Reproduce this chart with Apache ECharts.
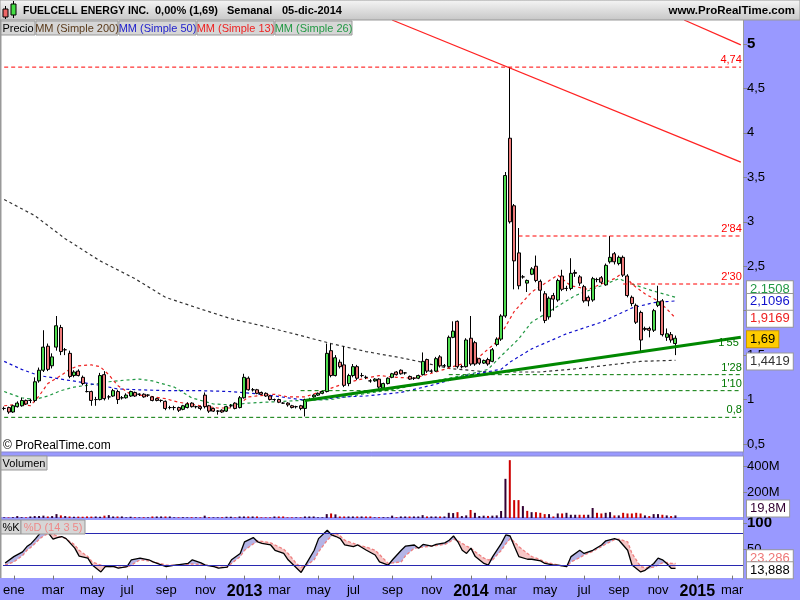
<!DOCTYPE html>
<html><head><meta charset="utf-8">
<script src="https://cdn.jsdelivr.net/npm/echarts@6/dist/echarts.min.js"></script>
<style>html,body{margin:0;padding:0;background:#fff}#c{width:800px;height:600px}</style>
</head><body><div id="c"></div>
<script>
// ---------- DATA ----------
const firstWeek = '2011-12-19';   // Monday of first weekly candle
const totalWeeks = 170;           // categories incl. empty future weeks
const monthNames = ['ene','feb','mar','abr','may','jun','jul','ago','sep','oct','nov','dic'];

// weekly candles [open, close, low, high]
const ohlc = [
[0.90,0.90,0.88,0.92],[0.91,0.86,0.84,0.92],[0.86,0.93,0.85,0.94],[0.92,0.96,0.91,0.98],[0.93,0.99,0.92,1.02],
[0.99,0.95,0.94,1.00],[0.99,0.99,0.96,1.01],[0.99,1.20,0.97,1.25],[1.21,1.33,1.19,1.36],[1.33,1.59,1.31,1.78],
[1.60,1.34,1.32,1.63],[1.38,1.48,1.35,1.52],[1.59,1.83,1.55,1.94],[1.81,1.54,1.50,1.84],[1.56,1.56,1.50,1.58],
[1.52,1.26,1.24,1.55],[1.27,1.31,1.25,1.33],[1.32,1.27,1.26,1.34],[1.25,1.18,1.16,1.27],[1.09,1.09,1.08,1.18],
[1.09,0.99,0.93,1.10],[1.00,1.00,0.93,1.03],[1.00,1.27,0.99,1.30],[1.28,1.01,0.99,1.32],[1.03,1.03,1.00,1.05],
[1.04,1.10,1.03,1.12],[1.09,1.00,0.95,1.11],[1.02,1.02,1.00,1.04],[1.02,1.05,1.01,1.07],[1.04,1.09,1.03,1.10],
[1.08,1.04,1.03,1.09],[1.06,1.06,1.04,1.07],[1.06,1.03,1.02,1.07],[1.05,1.05,1.03,1.06],[1.03,0.99,0.98,1.04],
[1.01,0.99,0.98,1.02],[0.99,0.99,0.97,1.00],[0.98,0.90,0.88,0.99],[0.91,0.91,0.89,0.93],[0.91,0.91,0.88,0.93],
[0.91,0.88,0.86,0.92],[0.89,0.93,0.88,0.94],[0.91,0.95,0.90,0.97],[0.96,0.92,0.91,0.97],[0.92,0.92,0.90,0.93],
[0.92,0.90,0.88,0.93],[1.05,0.92,0.90,1.08],[0.93,0.87,0.85,0.94],[0.90,0.87,0.86,0.91],[0.87,0.87,0.83,0.88],
[0.88,0.86,0.85,0.89],[0.87,0.92,0.86,0.93],[0.93,0.93,0.91,0.95],[0.96,0.90,0.89,0.97],[0.91,1.02,0.90,1.04],
[1.02,1.25,1.01,1.29],[1.24,1.11,1.10,1.26],[1.11,1.11,1.09,1.13],[1.11,1.07,1.06,1.12],[1.08,1.06,1.05,1.09],
[1.07,1.04,1.03,1.08],[1.04,1.00,0.99,1.05],[1.00,1.00,0.98,1.01],[1.00,0.97,0.96,1.01],[0.96,0.96,0.95,0.97],
[0.96,0.94,0.92,0.97],[0.93,0.91,0.90,0.94],[0.92,0.92,0.90,0.93],[0.93,0.90,0.88,0.94],[0.90,1.00,0.81,1.01],
[1.00,1.00,0.99,1.02],[1.03,1.05,1.02,1.06],[1.05,1.07,1.04,1.08],[1.07,1.09,1.06,1.10],[1.09,1.52,1.08,1.63],
[1.55,1.27,1.25,1.63],[1.27,1.47,1.26,1.50],[1.42,1.37,1.35,1.45],[1.39,1.16,1.14,1.60],[1.18,1.27,1.15,1.29],
[1.27,1.37,1.25,1.40],[1.37,1.24,1.22,1.39],[1.27,1.27,1.25,1.30],[1.25,1.25,1.23,1.27],[1.21,1.21,1.19,1.23],
[1.21,1.23,1.20,1.24],[1.23,1.14,1.12,1.24],[1.13,1.18,1.12,1.19],[1.18,1.24,1.17,1.25],[1.25,1.29,1.24,1.30],
[1.31,1.28,1.27,1.32],[1.33,1.29,1.28,1.34],[1.30,1.30,1.28,1.31],[1.26,1.23,1.22,1.27],[1.24,1.24,1.22,1.25],
[1.24,1.27,1.23,1.28],[1.28,1.43,1.27,1.53],[1.45,1.32,1.30,1.46],[1.32,1.32,1.30,1.34],[1.32,1.46,1.31,1.48],
[1.48,1.38,1.36,1.50],[1.38,1.38,1.36,1.40],[1.37,1.70,1.36,1.72],[1.70,1.77,1.69,1.88],[1.88,1.37,1.35,1.89],
[1.37,1.37,1.35,1.39],[1.37,1.67,1.36,1.69],[1.69,1.40,1.38,1.94],[1.64,1.40,1.38,1.66],[1.46,1.41,1.39,1.47],
[1.41,1.44,1.40,1.45],[1.45,1.40,1.38,1.47],[1.43,1.56,1.42,1.58],[1.62,1.68,1.60,1.70],[1.68,1.94,1.66,1.96],
[1.94,3.52,1.92,3.56],[3.94,3.00,2.98,4.74],[3.18,2.56,2.24,3.20],[2.65,2.28,2.24,2.93],[2.38,2.38,2.36,2.40],
[2.31,2.34,2.21,2.35],[2.41,2.47,2.40,2.49],[2.50,2.34,2.32,2.62],[2.33,2.23,1.99,2.35],[2.19,1.89,1.86,2.22],
[1.93,2.14,1.90,2.16],[2.17,2.13,2.00,2.20],[2.12,2.34,2.10,2.36],[2.39,2.24,2.22,2.46],[2.25,2.25,2.22,2.28],
[2.25,2.42,2.23,2.59],[2.43,2.42,2.38,2.46],[2.38,2.31,2.28,2.40],[2.27,2.11,2.09,2.29],[2.15,2.11,2.05,2.17],
[2.12,2.36,2.10,2.38],[2.35,2.35,2.32,2.37],[2.37,2.32,2.30,2.39],[2.29,2.51,2.28,2.53],[2.55,2.60,2.53,2.84],
[2.64,2.55,2.52,2.66],[2.53,2.60,2.51,2.62],[2.60,2.40,2.38,2.62],[2.39,2.17,2.15,2.41],[2.15,2.08,2.05,2.17],
[2.06,1.87,1.85,2.08],[1.98,1.67,1.54,2.00],[1.80,1.79,1.77,1.82],[1.80,1.78,1.70,1.82],[1.78,2.00,1.76,2.02],
[2.06,2.10,2.04,2.28],[2.11,1.73,1.71,2.13],[1.70,1.74,1.66,1.80],[1.73,1.67,1.64,1.76],[1.63,1.69,1.50,1.72]
];

// weekly volume, millions
const volume = [
5,4,6,15,6,5,12,15,15,18, 12,15,30,20,15,12,10,11,10,12,
11,12,10,18,22,12,12,12,5,10, 6,5,6,5,12,12,12,12,12,5,
5,6,5,6,5,5,18,6,5,5, 6,10,10,5,12,12,12,12,12,5,
5,5,12,12,12,5,5,5,5,12, 12,12,5,5,30,35,28,12,12,12,
12,12,12,12,12,5,6,6,5,18, 6,12,12,12,12,12,22,12,12,12,
12,12,40,38,45,15,20,62,40,15, 18,16,18,20,54,302,446,138,138,92,
55,45,45,40,30,30,12,35,35,40, 25,25,25,25,25,77,40,35,40,45,
20,20,40,35,35,40,35,20,15,30, 30,25,20,15,19.8
];

// moving averages, sampled [week index, value]
const ma200 = [[0,3.25],[7,3.07],[14,2.81],[22,2.56],[30,2.36],[37,2.15],[45,2.02],[52,1.91],[60,1.82],[68,1.72],[75,1.63],[83,1.54],[91,1.47],[95,1.43],[102,1.35],[111,1.31],[123,1.31],[132,1.35],[139,1.39],[146,1.43],[154,1.4419]];
const ma50 = [[0,1.43],[4,1.34],[8,1.27],[13,1.23],[17,1.20],[22,1.16],[26,1.12],[31,1.11],[37,1.10],[45,1.10],[52,1.09],[57,1.07],[62,1.04],[68,1.00],[72,1.00],[78,1.03],[83,1.04],[91,1.08],[98,1.16],[106,1.27],[114,1.34],[116,1.42],[121,1.57],[129,1.74],[137,1.87],[144,2.03],[149,2.09],[154,2.1096]];
const ma13 = [[0,0.93],[4,0.95],[6,0.93],[8,1.04],[10,1.18],[13,1.27],[15,1.34],[17,1.38],[20,1.39],[22,1.37],[24,1.28],[26,1.16],[29,1.06],[33,1.04],[37,1.01],[40,0.97],[45,0.93],[49,0.905],[52,0.905],[54,0.95],[56,1.03],[62,1.06],[65,1.03],[69,1.03],[74,1.11],[78,1.18],[82,1.23],[86,1.27],[90,1.25],[94,1.24],[99,1.31],[105,1.40],[108,1.44],[113,1.65],[117,1.99],[121,2.21],[127,2.40],[130,2.28],[134,2.24],[137,2.30],[140,2.36],[142,2.43],[144,2.30],[147,2.19],[150,2.11],[152,2.02],[154,1.9169]];
const ma26 = [[0,1.09],[4,1.02],[7,1.00],[10,1.04],[13,1.10],[16,1.14],[19,1.16],[24,1.20],[28,1.22],[31,1.23],[34,1.21],[39,1.14],[43,1.02],[48,0.95],[52,0.94],[56,0.96],[60,0.97],[68,0.99],[75,1.00],[82,1.06],[90,1.12],[98,1.20],[105,1.27],[109,1.31],[111,1.34],[114,1.49],[118,1.68],[121,1.87],[126,2.02],[131,2.17],[137,2.28],[141,2.36],[144,2.30],[149,2.22],[154,2.1508]];

// stochastic, sampled at common week indices
const stochIdx = [0,2,4,5,6,7,8,9,10,11,12,13,14,16,17,19,20,22,23,25,26,28,29,31,33,34,36,37,39,40,42,43,45,46,48,49,51,52,54,55,57,58,59,61,62,64,65,67,68,69,71,72,74,75,76,77,78,80,81,83,85,86,88,89,91,92,94,95,96,98,99,101,102,103,104,105,106,107,108,110,111,112,114,115,116,117,118,120,121,123,124,126,127,129,130,132,133,135,137,138,140,141,143,144,146,147,149,150,151,152,153,154];
const stochK = [24,36,45,55,61,70,80,86,80,69,72,74,70,52,37,33,20,7,17,17,14,17,30,33,30,26,20,17,20,21,23,30,24,20,17,14,16,30,42,64,72,64,61,58,48,42,30,14,6,20,48,70,86,77,74,70,58,55,58,48,39,26,20,30,48,56,58,52,59,56,59,62,67,75,64,48,42,52,36,23,20,36,61,77,75,55,36,31,31,28,23,20,20,17,36,48,42,48,58,66,70,67,48,20,7,10,23,33,30,23,14,13.888];
const stochD = [20,26,38,48,54,62,70,76,80,78,75,73,70,58,48,36,26,20,17,17,16,16,20,30,28,26,22,20,20,20,21,22,21,20,17,16,16,23,36,48,60,66,65,62,58,50,42,22,16,18,30,45,67,75,80,75,67,61,58,54,48,40,23,24,26,38,52,53,54,56,57,59,63,69,66,61,56,52,45,33,30,30,48,60,70,64,55,42,36,30,26,22,20,17,26,34,39,46,55,60,68,69,64,42,17,15,16,20,24,25,23,23.286];

// horizontal levels: value, starting week, colour, label
const levels = [
  {v:4.74, from:0,   color:'#ff0000', label:'4,74'},
  {v:2.84, from:118, color:'#ff0000', label:"2'84"},
  {v:2.30, from:142, color:'#ff0000', label:"2'30"},
  {v:1.28, from:102, color:'#007700', label:"1'28"},
  {v:1.10, from:68,  color:'#007700', label:"1'10"},
  {v:0.80, from:0,   color:'#007700', label:'0,8'}
];
// trend lines: [[week, price],[week, price]]
const trendSupport = [[69,0.99],[169,1.70]];
const trendResist1 = [[89,5.27],[169,3.67]];
const trendResist2 = [[156,5.27],[169,4.99]];
const priceTicks = [0.5,1,1.5,2,2.5,3,3.5,4,4.5,5];
const lastPrice = 1.69, lastVol = 19.8;

// ---------- BUILD ----------
const cats = [];
{ const d0 = new Date(firstWeek + 'T00:00:00Z');
  for (let i = 0; i < totalWeeks; i++) { const d = new Date(d0.getTime() + i*7*86400000); cats.push(d.toISOString().slice(0,10)); } }
const isTickCat = (idx, val) => { const m = +val.slice(5,7)-1, day = +val.slice(8,10); return day <= 7 && m % 2 === 0; };
const FONT = 'Liberation Sans, Arial, sans-serif';
const closes = ohlc.map(d => d[1]);
const volData = volume.map((v,i) => ({value:v, itemStyle:{color: (i>0 && closes[i] < closes[i-1]) ? '#cc0000' : '#330033'}}));
const comma = v => String(v).replace('.', ',');
const HIDE = {color:'rgba(0,0,0,0)', width:0};
const boxLabel = (txt, color, off, bg, border) => ({show:true, position:'end', distance:4, formatter:txt, color:color,
  fontFamily:FONT, fontSize:13, backgroundColor:bg||'#fff', borderColor:border||'#999', borderWidth:1,
  padding:[2,3,1,3], offset:[0,off]});
const box = (val, txt, color, off, bg, border) => ({yAxis: val, lineStyle:HIDE, label:boxLabel(txt, color, off, bg, border)});

const lvlLabel = (t, c) => ({show:true, position:'insideEndTop', formatter:t, color:c, fontSize:11, fontFamily:FONT, distance:2});
// each horizontal level drawn as its own dashed line series between its start week and the right edge
const levelSeries = levels.map(l => ({
  type:'line', xAxisIndex:0, yAxisIndex:0, silent:true, showSymbol:false, z:5,
  data:[[l.from, l.v], [totalWeeks-1, l.v]],
  itemStyle:{color:l.color}, lineStyle:{color:l.color, type:[4,3], width:1},
  endLabel:{show:true, formatter:l.label, color:l.color, fontSize:11, fontFamily:FONT, align:'right', offset:[1,-7], distance:0}
}));
const levelLines = [];
levelLines.push([{coord:[cats[totalWeeks-12], 1.55], lineStyle:HIDE, label:lvlLabel("1'55", '#007700')},
  {coord:[cats[totalWeeks-1], 1.55]}]);
const seg = (pts, style) => [{coord:[cats[pts[0][0]], pts[0][1]], lineStyle:style, label:{show:false}}, {coord:[cats[pts[1][0]], pts[1][1]]}];
levelLines.push(seg(trendSupport, {color:'#008800', width:3, type:'solid'}));
levelLines.push(seg(trendResist1, {color:'#ff2222', width:1.3, type:'solid'}));
levelLines.push(seg(trendResist2, {color:'#ff2222', width:1.3, type:'solid'}));

const maSeries = (name, data, color, lastTxt, off) => ({
  type:'line', name, xAxisIndex:0, yAxisIndex:0, data, showSymbol:false, silent:true, z:3,
  itemStyle:{color}, lineStyle:{color, width:1.2, type:[3,3]},
  markLine:{symbol:['none','none'], silent:true, animation:false,
    data:[box(data[data.length-1][1], lastTxt, color, off)]}
});

const stBase = stochIdx.map((x,j) => [x, Math.min(stochK[j], stochD[j])]);
const stUp = stochIdx.map((x,j) => [x, Math.max(stochK[j]-stochD[j], 0)]);
const stDn = stochIdx.map((x,j) => [x, Math.max(stochD[j]-stochK[j], 0)]);
const kLine = stochIdx.map((x,j) => [x, stochK[j]]);
const dLine = stochIdx.map((x,j) => [x, stochD[j]]);

const xHidden = gi => ({type:'category', gridIndex:gi, data:cats, boundaryGap:true,
  axisLine:{show:false}, axisTick:{show:false}, axisLabel:{show:false}, splitLine:{show:false}});
const yBase = (gi, min, max, vals, fmt, rich) => ({type:'value', gridIndex:gi, position:'right', min, max, scale:false,
  axisLine:{show:true, lineStyle:{color:'#999'}},
  axisTick:{show:true, length:4, lineStyle:{color:'#888'}, customValues:vals},
  splitLine:{show:false},
  axisLabel:{show:true, customValues:vals, formatter:fmt, color:'#000', fontSize:13, fontFamily:FONT, margin:4, rich:rich||{}}
});

const legendItems = [
  {x:1, w:34, t:'Precio', c:'#000'},
  {x:36, w:82, t:'MM (Simple 200)', c:'#5a3a1a'},
  {x:119, w:77, t:'MM (Simple 50)', c:'#2222cc'},
  {x:197, w:77, t:'MM (Simple 13)', c:'#ee2222'},
  {x:275, w:77, t:'MM (Simple 26)', c:'#229944'}
];
const txt = (x, y, t, opts) => ({type:'text', x, y, z:51, silent:true,
  style:Object.assign({text:t, fill:'#000', fontSize:12, fontFamily:FONT, verticalAlign:'middle'}, opts||{})});
const lbBox = (x, y, w, h, t, c) => ([
  {type:'rect', shape:{x, y, width:w, height:h}, style:{fill:'#d6d6d6', stroke:'#999', lineWidth:1}, z:50, silent:true},
  txt(x+w/2, y+h/2+0.5, t, {fill:c, align:'center', fontSize:11})
]);

const graphics = [
  // backgrounds
  {type:'rect', shape:{x:743, y:20, width:57, height:580}, style:{fill:'#9999ff'}, z:-10, silent:true},
  {type:'rect', shape:{x:0, y:578, width:800, height:22}, style:{fill:'#9999ff'}, z:-10, silent:true},
  {type:'rect', shape:{x:0, y:452, width:743, height:4}, style:{fill:'#9999ff', stroke:'#8888cc'}, z:-10, silent:true},
  {type:'rect', shape:{x:0, y:517, width:743, height:3}, style:{fill:'#9999ff'}, z:-10, silent:true},
  {type:'rect', shape:{x:0, y:20, width:1.5, height:558}, style:{fill:'#999'}, z:-10, silent:true},
  // title bar
  {type:'rect', shape:{x:0, y:0, width:800, height:20}, style:{fill:new echarts.graphic.LinearGradient(0,0,0,1,[{offset:0,color:'#f6f6f6'},{offset:1,color:'#c6c6c6'}]), stroke:'#999', lineWidth:1}, z:40, silent:true},
  {type:'line', shape:{x1:5.5, y1:6, x2:5.5, y2:19}, style:{stroke:'#000'}, z:40, silent:true},
  {type:'rect', shape:{x:3, y:9, width:5, height:8}, style:{fill:'#ee6666', stroke:'#000', lineWidth:1}, z:41, silent:true},
  {type:'line', shape:{x1:13.5, y1:1, x2:13.5, y2:18}, style:{stroke:'#000'}, z:40, silent:true},
  {type:'rect', shape:{x:11, y:4, width:5, height:11}, style:{fill:'#44dd44', stroke:'#000', lineWidth:1}, z:41, silent:true},
  txt(23, 11, 'FUELCELL ENERGY INC.', {fontWeight:'bold', fontSize:10.5}),
  txt(155, 11, '0,00% (1,69)', {fontWeight:'bold', fontSize:11}),
  txt(227, 11, 'Semanal', {fontWeight:'bold', fontSize:11}),
  txt(282, 11, '05-dic-2014', {fontWeight:'bold', fontSize:11}),
  txt(795, 11, 'www.ProRealTime.com', {fontWeight:'bold', align:'right', fontSize:11.5}),
  txt(3, 446, '© ProRealTime.com', {})
];
legendItems.forEach(l => graphics.push(...lbBox(l.x, 21, l.w, 14, l.t, l.c)));
graphics.push(...lbBox(1, 456, 46, 14, 'Volumen', '#000'));
graphics.push(...lbBox(1, 520, 20, 14, '%K', '#000'));
graphics.push(...lbBox(21, 520, 64, 14, '%D (14 3 5)', '#ee8888'));

const option = {
  animation:false,
  backgroundColor:'#fff',
  textStyle:{fontFamily:FONT},
  grid:[
    {left:2, top:20, width:741, height:432},
    {left:2, top:456, width:741, height:62},
    {left:2, top:520, width:741, height:58}
  ],
  xAxis:[ xHidden(0), xHidden(1),
    {type:'category', gridIndex:2, data:cats, boundaryGap:true,
     axisLine:{show:false},
     axisTick:{show:true, interval:isTickCat, alignWithLabel:true, length:4, lineStyle:{color:'#777'}},
     splitLine:{show:false},
     axisLabel:{show:true, interval:isTickCat, margin:6, color:'#000', fontSize:13, fontFamily:FONT,
       formatter:(val) => { const y = +val.slice(0,4), m = +val.slice(5,7)-1; return (m===0 && y>2012) ? '{y|'+y+'}' : monthNames[m]; },
       rich:{y:{fontSize:16, fontWeight:'bold', color:'#000', fontFamily:FONT}}}
    }
  ],
  yAxis:[
    yBase(0, 0.41, 5.27, priceTicks, v => v===5 ? '{b|5}' : comma(v), {b:{fontSize:15, fontWeight:'bold', color:'#000', fontFamily:FONT}}),
    yBase(1, 0, 478, [200,400], v => v+'M'),
    yBase(2, -4.5, 105.3, [50,100], v => v===100 ? '{b|100}' : String(v), {b:{fontSize:15, fontWeight:'bold', color:'#000', fontFamily:FONT}})
  ],
  graphic: graphics,
  series:[
    ...levelSeries,
    maSeries('MM200', ma200, '#333333', '1,4419', 1),
    maSeries('MM26', ma26, '#229944', '2,1508', -8),
    maSeries('MM50', ma50, '#1010cc', '2,1096', 1),
    maSeries('MM13', ma13, '#ee2020', '1,9169', 1),
    {type:'candlestick', name:'Precio', xAxisIndex:0, yAxisIndex:0, data:ohlc, barWidth:3.5, z:4,
     itemStyle:{color:'#4fdc4f', color0:'#ee7b7b', borderColor:'#000', borderColor0:'#000', borderWidth:1},
     markLine:{symbol:['none','none'], silent:true, animation:false, data:[
       ...levelLines,
       box(lastPrice, comma(lastPrice), '#000', 1, '#ffcc00', '#cc9900')
     ]}},
    {type:'bar', name:'Volumen', xAxisIndex:1, yAxisIndex:1, data:volData, barWidth:2,
     markLine:{symbol:['none','none'], silent:true, animation:false, data:[box(lastVol, '19,8M', '#330033', -7)]}},
    {type:'line', xAxisIndex:2, yAxisIndex:2, data:stBase, stack:'st', showSymbol:false, silent:true, lineStyle:{width:0}, z:2},
    {type:'line', xAxisIndex:2, yAxisIndex:2, data:stUp, stack:'st', showSymbol:false, silent:true, lineStyle:{width:0}, areaStyle:{color:'#b4b4e6', opacity:1}, z:2},
    {type:'line', xAxisIndex:2, yAxisIndex:2, data:stDn, stack:'st', showSymbol:false, silent:true, lineStyle:{width:0}, areaStyle:{color:'#f6c6c6', opacity:1}, z:2},
    {type:'line', name:'%D', xAxisIndex:2, yAxisIndex:2, data:dLine, showSymbol:false, silent:true, z:3,
     lineStyle:{color:'#ee8080', width:1.3, type:[3,2]},
     markLine:{symbol:['none','none'], silent:true, animation:false, data:[
       {yAxis:80, lineStyle:{color:'#2828b0', width:1, type:'solid'}, label:{show:false}},
       {yAxis:20, lineStyle:{color:'#2828b0', width:1, type:'solid'}, label:{show:false}},
       box(23.286, '23,286', '#ee7777', -5)
     ]}},
    {type:'line', name:'%K', xAxisIndex:2, yAxisIndex:2, data:kLine, showSymbol:false, silent:true, z:4,
     lineStyle:{color:'#000', width:1.3},
     markLine:{symbol:['none','none'], silent:true, animation:false, data:[box(13.888, '13,888', '#000', 2)]}}
  ]
};
echarts.init(document.getElementById('c'), null, {renderer:'canvas'}).setOption(option);
</script></body></html>
